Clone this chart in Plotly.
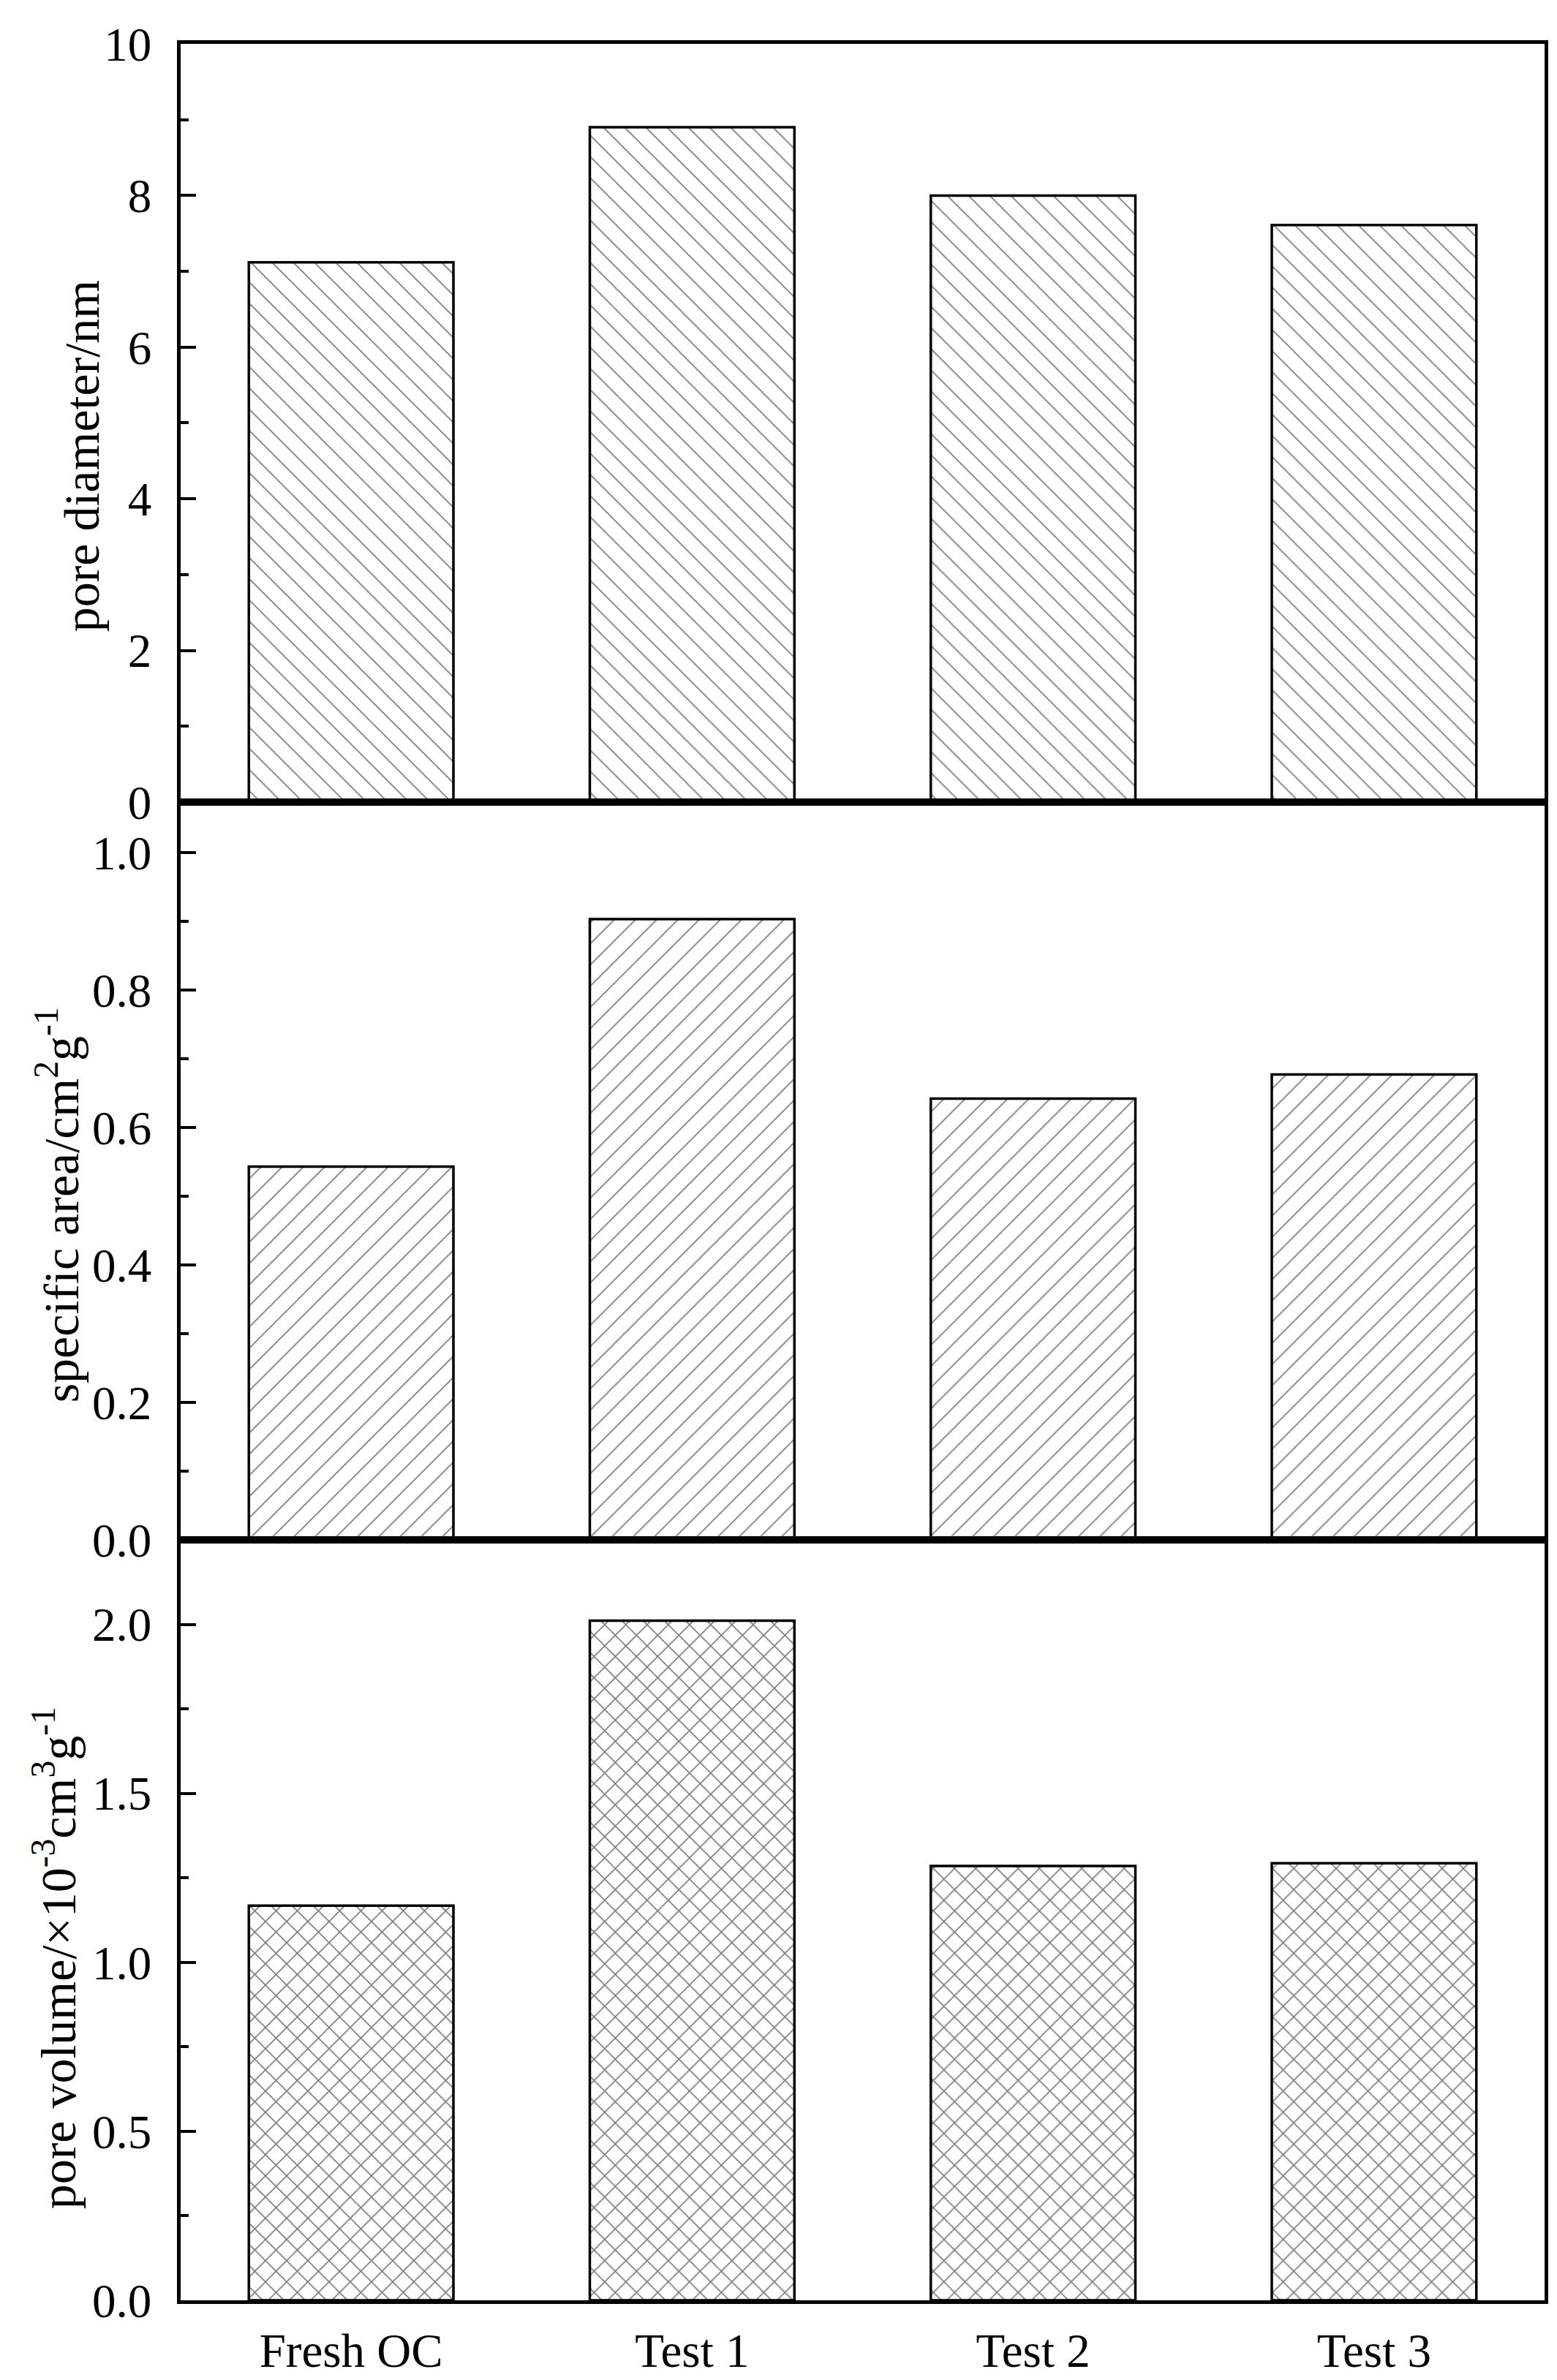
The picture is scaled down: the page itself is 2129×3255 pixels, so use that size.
import plotly.graph_objects as go
from plotly.subplots import make_subplots

categories = ["Fresh OC", "Test 1", "Test 2", "Test 3"]
pore_diameter = [7.12, 8.90, 8.00, 7.61]
specific_area = [0.543, 0.903, 0.642, 0.677]
pore_volume = [1.168, 2.011, 1.285, 1.293]

y1_ticks = [0, 2, 4, 6, 8, 10]
y2_ticks = [0.0, 0.2, 0.4, 0.6, 0.8, 1.0]
y3_ticks = [0.0, 0.5, 1.0, 1.5, 2.0]

W, H = 2129, 3255
ML, MR, MT, MB = 239, 25, 52, 108
FONT = "Liberation Serif"
FS = 65
FT = 68
LW = 4.5

fig = make_subplots(rows=3, cols=1, shared_xaxes=True, vertical_spacing=0)

def bar(vals, shape, sol):
    return go.Bar(
        x=categories, y=vals, width=0.6,
        marker=dict(color="white",
                    line=dict(color="black", width=3.5),
                    pattern=dict(shape=shape, size=20.5, solidity=sol,
                                 fgcolor="black", bgcolor="white",
                                 fillmode="overlay")),
        showlegend=False)

fig.add_trace(bar(pore_diameter, "\\", 0.09), row=1, col=1)
fig.add_trace(bar(specific_area, "/", 0.09), row=2, col=1)
fig.add_trace(bar(pore_volume, "x", 0.16), row=3, col=1)

ph = H - MT - MB
b12 = (H - MB - 1092) / ph
b23 = (H - MB - 2104) / ph

domains = [[b12, 1.0], [b23, b12], [0.0, b23]]
ranges = [[0, 10], [0, 1.0732], [0, 2.25]]
tickvals = [y1_ticks, y2_ticks, y3_ticks]
ticktext = [[str(v) for v in y1_ticks],
            ["%.1f" % v for v in y2_ticks],
            ["%.1f" % v for v in y3_ticks]]
minor_d = [1, 0.1, 0.25]

for i in range(3):
    yk = "yaxis" if i == 0 else "yaxis%d" % (i + 1)
    xk = "xaxis" if i == 0 else "xaxis%d" % (i + 1)
    fig.layout[yk].update(
        domain=domains[i], range=ranges[i], tickmode="array",
        tickvals=tickvals[i], ticktext=ticktext[i],
        ticks="inside", ticklen=21, tickwidth=4, tickcolor="black",
        minor=dict(ticks="inside", ticklen=11, tickwidth=4, dtick=minor_d[i],
                   tick0=0, tickcolor="black"),
        showline=True, linewidth=LW, linecolor="black", mirror=True,
        showgrid=False, zeroline=False, ticklabelstandoff=22,
        tickfont=dict(family=FONT, size=FS, color="black"))
    fig.layout[xk].update(
        range=[-0.5, 3.5], showline=True, linewidth=LW, linecolor="black",
        mirror=True, showgrid=False, zeroline=False, ticks="",
        showticklabels=(i == 2), ticklabelstandoff=8,
        tickfont=dict(family=FONT, size=FS, color="black"))

pw = W - ML - MR
def xp(px):
    return (px - ML) / pw
def yp(py):
    return (H - MB - py) / ph

titles = [
    ("pore diameter/nm", 144, yp(618)),
    ("specific area/cm<sup>2</sup>g<sup>-1</sup>", 117, yp(1645)),
    ("pore volume/\u00d710<sup>-3</sup>cm<sup>3</sup>g<sup>-1</sup>", 113, yp(2678)),
]
for txt, px, yc in titles:
    fig.add_annotation(text=txt, xref="paper", yref="paper", x=xp(px), y=yc,
                       xanchor="right", yanchor="middle", textangle=-90,
                       showarrow=False,
                       font=dict(family=FONT, size=FT, color="black"))

fig.update_layout(
    width=W, height=H, margin=dict(l=ML, r=MR, t=MT, b=MB, pad=0),
    plot_bgcolor="white", paper_bgcolor="white", bargap=0.4,
    font=dict(family=FONT, size=FS, color="black"))

fig.write_html("out.html")
